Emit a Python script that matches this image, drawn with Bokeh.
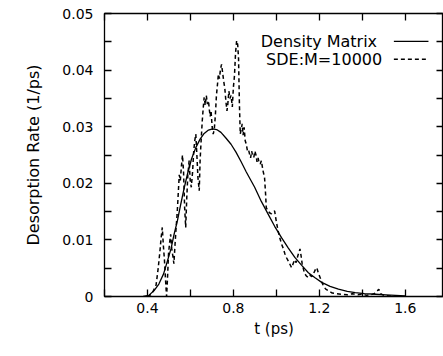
from bokeh.plotting import figure
from bokeh.models import (LinearAxis, FixedTicker, CustomJSTickFormatter, Range1d, Label)
from bokeh.embed import file_html
from bokeh.resources import INLINE

# ---- data ----
dm_t = [0.38, 0.406, 0.43, 0.453, 0.475, 0.493, 0.51, 0.524, 0.54, 0.555, 0.57, 0.586,
        0.605, 0.625, 0.645, 0.664, 0.684, 0.703, 0.722, 0.742, 0.765, 0.789, 0.812,
        0.836, 0.86, 0.883, 0.899, 0.93, 0.961, 0.992, 1.024, 1.055, 1.086, 1.118,
        1.149, 1.18, 1.211, 1.25, 1.289, 1.33, 1.367, 1.41, 1.461, 1.51, 1.555, 1.6]
dm_v = [0.0, 0.0002, 0.001, 0.0022, 0.004, 0.0063, 0.0085, 0.011, 0.0135, 0.0163, 0.019,
        0.0216, 0.0243, 0.0263, 0.0278, 0.0288, 0.0294, 0.0296, 0.0295, 0.029, 0.028,
        0.0269, 0.0255, 0.0238, 0.022, 0.0204, 0.0193, 0.0168, 0.0146, 0.0124, 0.0104,
        0.0086, 0.0069, 0.0055, 0.0042, 0.0033, 0.0025, 0.0018, 0.0013, 0.0009, 0.0007,
        0.0005, 0.0004, 0.0003, 0.0002, 0.0001]

sde_t = [0.40, 0.42, 0.44, 0.45, 0.458, 0.464, 0.469, 0.474, 0.479, 0.484, 0.489, 0.493,
         0.498, 0.503, 0.508, 0.513, 0.518, 0.523, 0.528, 0.533, 0.538, 0.543, 0.548,
         0.553, 0.558, 0.563, 0.568, 0.573, 0.578, 0.583, 0.588, 0.594, 0.599, 0.604,
         0.61, 0.615, 0.62, 0.625, 0.63, 0.635, 0.641, 0.645, 0.649, 0.655, 0.66, 0.664,
         0.669, 0.674, 0.679, 0.684, 0.688, 0.692, 0.696, 0.701, 0.706, 0.711, 0.716,
         0.721, 0.726, 0.73, 0.735, 0.74, 0.745, 0.75, 0.755, 0.76, 0.765, 0.77, 0.774,
         0.779, 0.784, 0.789, 0.795, 0.8, 0.805, 0.81, 0.815, 0.82, 0.824, 0.828, 0.832,
         0.836, 0.841, 0.845, 0.85, 0.855, 0.86, 0.865, 0.87, 0.875, 0.88, 0.885, 0.89,
         0.895, 0.9, 0.905, 0.91, 0.915, 0.92, 0.925, 0.93, 0.938, 0.945, 0.95, 0.953,
         0.96, 0.968, 0.977, 0.985, 0.992, 1.0, 1.008, 1.015, 1.024, 1.032, 1.04, 1.048,
         1.055, 1.063, 1.071, 1.078, 1.085, 1.092, 1.1, 1.105, 1.11, 1.115, 1.12, 1.127,
         1.133, 1.14, 1.148, 1.155, 1.165, 1.175, 1.182, 1.188, 1.195, 1.203, 1.212,
         1.22, 1.23, 1.243, 1.26, 1.28, 1.305, 1.33, 1.355, 1.38, 1.4, 1.42, 1.44, 1.46,
         1.47, 1.477, 1.485, 1.5, 1.53, 1.56]
sde_v = [0.0, 0.0004, 0.002, 0.005, 0.008, 0.0105, 0.0122, 0.009, 0.0065, 0.003, 0.0,
         0.003, 0.0075, 0.0095, 0.011, 0.0085, 0.0072, 0.0058, 0.009, 0.012, 0.0145,
         0.018, 0.0215, 0.0205, 0.023, 0.025, 0.022, 0.0157, 0.0122, 0.0175, 0.0215,
         0.024, 0.0205, 0.0193, 0.022, 0.0255, 0.0275, 0.0287, 0.025, 0.021, 0.0187,
         0.024, 0.027, 0.031, 0.0335, 0.0352, 0.0338, 0.0355, 0.034, 0.0346, 0.033,
         0.0318, 0.0328, 0.03, 0.0287, 0.0295, 0.032, 0.0355, 0.0375, 0.0393, 0.0385,
         0.0402, 0.041, 0.0395, 0.038, 0.0368, 0.0345, 0.0328, 0.034, 0.0363, 0.035,
         0.0355, 0.0335, 0.037, 0.039, 0.043, 0.0452, 0.0445, 0.042, 0.034, 0.0287,
         0.0295, 0.0305, 0.0285, 0.0299, 0.0275, 0.0269, 0.0258, 0.026, 0.0252, 0.0245,
         0.0257, 0.0248, 0.0246, 0.0257, 0.025, 0.0238, 0.0245, 0.0236, 0.0234, 0.024,
         0.0222, 0.021, 0.018, 0.0157, 0.0152, 0.0148, 0.0146, 0.015, 0.0151, 0.0132,
         0.0116, 0.0105, 0.0093, 0.0085, 0.0075, 0.0068, 0.0063, 0.0057, 0.0051, 0.0058,
         0.0065, 0.006, 0.0072, 0.0078, 0.0084, 0.0072, 0.0058, 0.0047, 0.004, 0.0036,
         0.0034, 0.0038, 0.0035, 0.0042, 0.0048, 0.0051, 0.0042, 0.0034, 0.0025, 0.0018,
         0.0013, 0.001, 0.0006, 0.0005, 0.0004, 0.0003, 0.0005, 0.0003, 0.0004, 0.0002,
         0.0003, 0.0006, 0.001, 0.0013, 0.0005, 0.0002, 0.0001, 0.0]

x_major = [0.4, 0.8, 1.2, 1.6]
x_minor = [0.2, 0.6, 1.0, 1.4]
y_major = [0.0, 0.01, 0.02, 0.03, 0.04, 0.05]
y_minor = [0.005, 0.015, 0.025, 0.035, 0.045]
legend_labels = ["Density  Matrix", "SDE:M=10000"]

FONT = "DejaVu Sans"

p = figure(width=443, height=356, output_backend="svg", toolbar_location=None,
           x_range=Range1d(0.2, 1.778), y_range=Range1d(0.0, 0.05),
           x_axis_label="t (ps)", y_axis_label="Desorption Rate (1/ps)",
           min_border_left=104, min_border_top=13, min_border_right=0, min_border_bottom=60)
p.grid.visible = False
p.outline_line_color = "black"
p.outline_line_width = 1.3
p.background_fill_color = "white"
p.border_fill_color = "white"

fmt = CustomJSTickFormatter(code="return String(Number(tick.toFixed(3)));")
blank = CustomJSTickFormatter(code="return '';")

def style(ax, labels=True):
    ax.axis_line_color = None
    ax.major_tick_in = 7
    ax.major_tick_out = 0
    ax.minor_tick_in = 7
    ax.minor_tick_out = 0
    ax.major_tick_line_color = "black"
    ax.minor_tick_line_color = "black"
    ax.major_tick_line_width = 1.3
    ax.minor_tick_line_width = 1.3
    ax.formatter = fmt
    ax.major_label_text_font = FONT
    ax.major_label_text_color = "black"
    ax.axis_label_text_font = FONT
    ax.axis_label_text_font_style = "normal"
    ax.axis_label_text_color = "black"
    if not labels:
        ax.formatter = blank
        ax.major_label_standoff = 0
        ax.axis_label = None

xb = p.xaxis[0]
xb.ticker = FixedTicker(ticks=x_major, minor_ticks=x_minor)
style(xb)
xb.major_label_text_font_size = "14px"
xb.major_label_standoff = 6
xb.axis_label_text_font_size = "15px"
xb.axis_label_standoff = 4

yl = p.yaxis[0]
yl.ticker = FixedTicker(ticks=y_major, minor_ticks=y_minor)
style(yl)
yl.major_label_text_font_size = "14px"
yl.major_label_standoff = 11
yl.axis_label_text_font_size = "16px"
yl.axis_label_standoff = 16

xt = LinearAxis(ticker=FixedTicker(ticks=x_major, minor_ticks=x_minor))
style(xt, labels=False)
p.add_layout(xt, "above")
yr = LinearAxis(ticker=FixedTicker(ticks=y_major, minor_ticks=y_minor))
style(yr, labels=False)
p.add_layout(yr, "right")

p.line(dm_t, dm_v, line_color="black", line_width=1.3)
p.line(sde_t, sde_v, line_color="black", line_width=1.5, line_dash="4 3")

# key (gnuplot style: right-aligned text, sample line to the right)
key_text_x = 1.4925
key_line_x0, key_line_x1 = 1.547, 1.708
key_y = [0.04509, 0.04191]
for lab, yy, dash in zip(legend_labels, key_y, ["solid", "4 3"]):
    p.add_layout(Label(x=key_text_x, y=yy, text=lab, text_align="right",
                       text_baseline="middle", text_font=FONT, text_font_size="16px",
                       text_color="black"))
    p.line([key_line_x0, key_line_x1], [yy, yy], line_color="black",
           line_width=1.3 if dash == "solid" else 1.5, line_dash=dash)

open("out.html", "w").write(file_html(p, INLINE))
